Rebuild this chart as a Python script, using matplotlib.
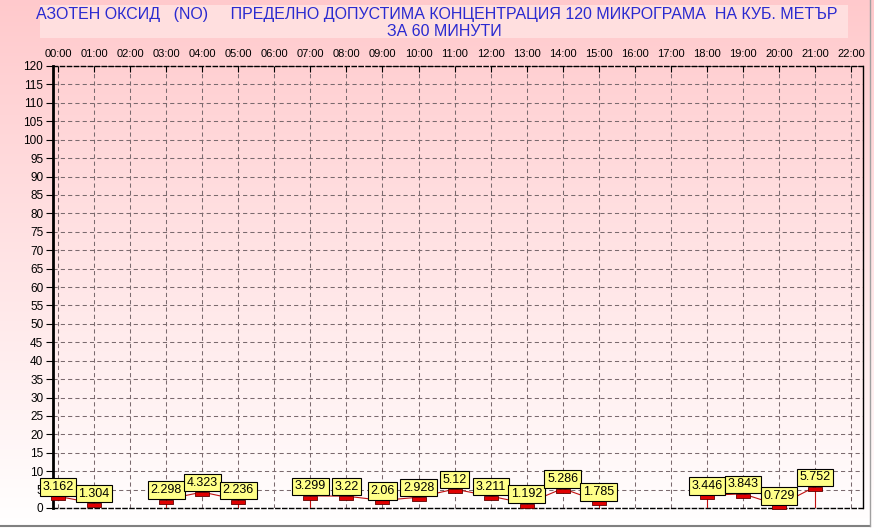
import numpy as np
import matplotlib
matplotlib.use("Agg")
import matplotlib.pyplot as plt
from matplotlib.path import Path
from matplotlib.patches import Rectangle
from matplotlib.lines import Line2D

# ==== данни ====
hours = list(range(23))
hour_labels = [f"{h:02d}:00" for h in hours]
values = [3.162, 1.304, None, 2.298, 4.323, 2.236, None, 3.299, 3.22, 2.06,
          2.928, 5.12, 3.211, 1.192, 5.286, 1.785, None, None, 3.446, 3.843,
          0.729, 5.752, None]
y_ticks = list(range(0, 121, 5))
title_line1 = "АЗОТЕН ОКСИД   (NO)     ПРЕДЕЛНО ДОПУСТИМА КОНЦЕНТРАЦИЯ 120 МИКРОГРАМА  НА КУБ. МЕТЪР"
title_line2 = "ЗА 60 МИНУТИ"

W, H = 874, 529
fig = plt.figure(figsize=(W / 100, H / 100), dpi=100)

# фон с градиент
bg = fig.add_axes([0, 0, 1, 1], zorder=-10)
grad = np.linspace(0, 1, 256).reshape(-1, 1)
top = np.array([1.0, 0.79, 0.80])
bot = np.array([1.0, 1.0, 1.0])
img = top + (bot - top) * grad[..., None]
bg.imshow(img, aspect="auto", extent=[0, 1, 0, 1])
bg.axis("off")

# рамка на заглавието
fig.patches.append(Rectangle((40 / W, 1 - 38 / H), (848 - 40) / W, 33 / H,
                             transform=fig.transFigure, facecolor="#ffdfdf",
                             edgecolor="none", zorder=-5))
tfont = "Liberation Sans"
fig.text(437 / W, 1 - 15 / H, title_line1, ha="center", va="center",
         color="#2a2ad0", fontsize=11.5, family=tfont)
fig.text(444 / W, 1 - 31 / H, title_line2, ha="center", va="center",
         color="#2a2ad0", fontsize=11.5, family=tfont)

# сива рамка долу и вдясно
fig.add_artist(Line2D([0, 870 / W], [1 - 526 / H] * 2, transform=fig.transFigure,
                      color="#808080", lw=1.5))
fig.add_artist(Line2D([870 / W] * 2, [1 - 526 / H, 1], transform=fig.transFigure,
                      color="#a0a0a0", lw=1))

ax = fig.add_axes([53 / W, 1 - 508 / H, (863 - 53) / W, (508 - 66) / H])
ax.set_facecolor("none")
ax.set_xlim(-0.14, 22.33)
ax.set_ylim(0, 120)

ax.set_yticks(y_ticks)
ax.set_xticks(hours)
ax.set_xticklabels(hour_labels)
ax.xaxis.tick_top()
ax.tick_params(axis="x", length=4, direction="in", labelsize=8, pad=5)
ax.tick_params(axis="y", length=5, labelsize=8.5, pad=2)
for lab in ax.get_xticklabels() + ax.get_yticklabels():
    lab.set_family("Liberation Sans")

ax.grid(True, color="#7a6a6e", linestyle=(0, (4, 3)), lw=0.75)
ax.spines["left"].set_linewidth(2)
ax.spines["right"].set_linewidth(1)
for s in ("top", "bottom"):
    ax.spines[s].set_linestyle((0, (3, 2)))
    ax.spines[s].set_linewidth(1)

y = np.array([np.nan if v is None else v for v in values])
x = np.array(hours)
ax.plot(x, y, color="#c01010", lw=0.8, zorder=3, clip_on=False)

# вертикални линии до нулата при прекъсвания
for i, v in enumerate(values):
    if v is None:
        continue
    prev_gap = i > 0 and values[i - 1] is None
    next_gap = i < len(values) - 1 and values[i + 1] is None
    if prev_gap or next_gap:
        ax.plot([x[i], x[i]], [0, v], color="#c01010", lw=0.8, zorder=3)

marker = Path([(-1, 0), (1, 0), (1, -0.55), (-1, -0.55), (-1, 0)],
              [Path.MOVETO, Path.LINETO, Path.LINETO, Path.LINETO, Path.CLOSEPOLY])
ax.plot(x, y, linestyle="none", marker=marker, markersize=10,
        markerfacecolor="#e00000", markeredgecolor="#600000",
        markeredgewidth=0.6, zorder=4, clip_on=False)

for i, v in enumerate(values):
    if v is None:
        continue
    ax.annotate(f"{v:g}", (x[i], v), xytext=(0, 2.5), textcoords="offset points",
                ha="center", va="bottom", fontsize=9, family="Liberation Sans",
                bbox=dict(boxstyle="square,pad=0.22", facecolor="#ffff88",
                          edgecolor="black", lw=0.8),
                zorder=10 + i, annotation_clip=False)

fig.savefig("out.png", dpi=100)
